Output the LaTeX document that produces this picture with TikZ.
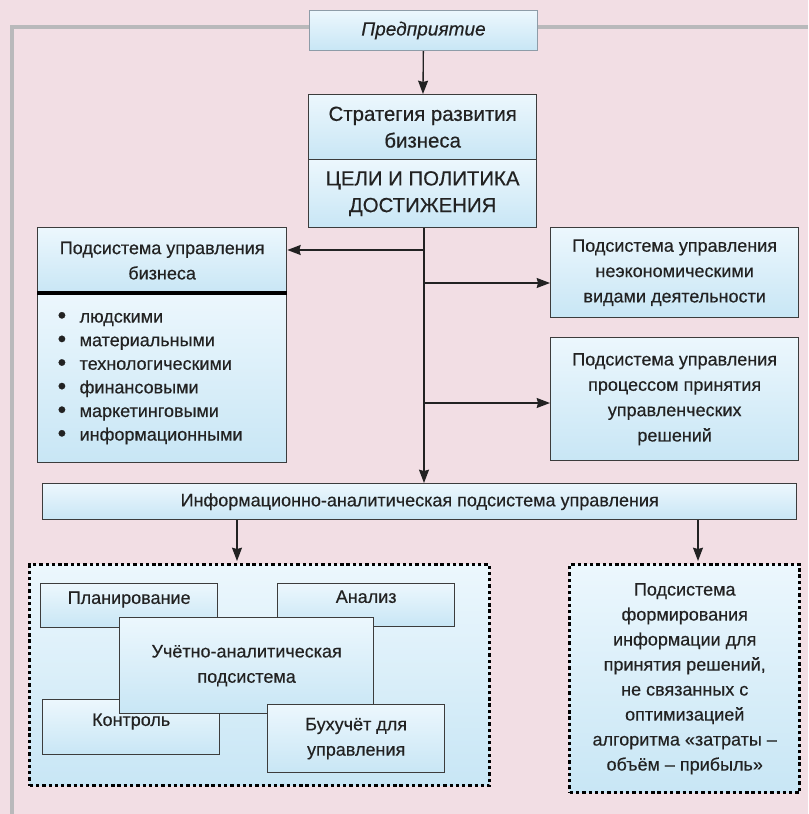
\documentclass[tikz,border=0pt]{standalone}
\usepackage{fontspec}
\setmainfont{Liberation Sans}[FakeBold=0.4]
\usetikzlibrary{arrows.meta,shadings}
\definecolor{bg}{HTML}{F2DEE4}
\definecolor{frm}{HTML}{B9B9BB}
\definecolor{btop}{HTML}{ECF7FD}
\definecolor{bbot}{HTML}{C8E6F5}
\definecolor{bord}{HTML}{3C3C3C}
\definecolor{entbord}{HTML}{8E9CA8}
\definecolor{txt}{HTML}{222222}
\newcommand{\bul}{\makebox[16.5pt][l]{\raisebox{-0.6pt}{\scalebox{1.35}{•}}}}
\begin{document}
\begin{tikzpicture}[x=0.75pt,y=-0.75pt,
  box/.style={draw=bord,line width=1pt,top color=btop,bottom color=bbot,
    text=txt,align=center,inner sep=0pt,anchor=north west,
    font=\fontsize{13.5}{19}\selectfont},
  bigtxt/.style={font=\fontsize{15.3}{20}\selectfont},
  dbox/.style={box,draw=black,line width=2.6pt,dash pattern=on 2.5pt off 2.2pt},
  arr/.style={draw=txt,line width=1pt,-{Stealth[length=10pt,width=7.5pt,inset=1pt]}},
  frame/.style={draw=frm,line width=3pt}]
\useasboundingbox[fill=bg] (0,0) rectangle (808,814);
% outer frame
\draw[frame] (12,814) -- (12,27) -- (309,27);
\draw[frame] (537,27) -- (808,27);
% top
\node[box,draw=entbord,line width=0.8pt,minimum width=171pt,minimum height=30pt,
  font=\fontsize{14.3}{19}\selectfont\itshape] (ent) at (309,10) {Предприятие};
\node[box,bigtxt,minimum width=171pt,minimum height=48.75pt] (strat1) at (308,94)
  {Стратегия развития\\бизнеса};
\node[box,bigtxt,minimum width=171pt,minimum height=51pt] (strat2) at (308,159)
  {ЦЕЛИ И ПОЛИТИКА\\ДОСТИЖЕНИЯ};
% left business box
\node[box,minimum width=186.75pt,minimum height=49.5pt] (bizH) at (37,227)
  {Подсистема управления\\бизнеса};
\node[box,minimum width=186.75pt,minimum height=126.75pt,
  text width=156.75pt,align=left,inner xsep=15pt,
  font=\fontsize{13.5}{17.7}\selectfont] (bizL) at (37,293)
  {\bul людскими\\
   \bul материальными\\
   \bul технологическими\\
   \bul финансовыми\\
   \bul маркетинговыми\\
   \bul информационными};
\draw[black,line width=2.4pt] (bizL.north west) -- (bizL.north east);
% right boxes
\node[box,minimum width=186pt,minimum height=67.5pt] (neco) at (550,227)
  {Подсистема управления\\неэкономическими\\видами деятельности};
\node[box,minimum width=186pt,minimum height=92.25pt] (dec) at (550,337)
  {Подсистема управления\\процессом принятия\\управленческих\\решений};
% info box
\node[box,minimum width=565.5pt,minimum height=27pt] (info) at (42,483)
  {Информационно-аналитическая подсистема управления};
% dashed boxes
\node[dbox,minimum width=345pt,minimum height=165.75pt] (leftD) at (28,563) {};
\node[dbox,minimum width=172.5pt,minimum height=171pt,font=\fontsize{13.5}{18.75}\selectfont] (rightD) at (568,563)
  {Подсистема\\формирования\\информации для\\принятия решений,\\не связанных с\\оптимизацией\\алгоритма «затраты –\\объём – прибыль»};
% inner boxes
\node[box,minimum width=132.75pt,minimum height=33pt,text height=9.6pt,text depth=12.3pt] (plan) at (40,583) {Планирование};
\node[box,minimum width=132.75pt,minimum height=32.25pt,text height=9.6pt,text depth=13.1pt] (anal) at (277,583) {Анализ};
\node[box,minimum width=132.75pt,minimum height=41.25pt,text height=9.6pt,text depth=11.5pt] (kontr) at (42,699) {Контроль};
\node[box,minimum width=190.5pt,minimum height=72pt] (uchet) at (119,617)
  {Учётно-аналитическая\\подсистема};
\node[box,minimum width=132.75pt,minimum height=51pt] (buh) at (267,704)
  {Бухучёт для\\управления};
% connectors
\draw[arr] (ent) -- (strat1);
\coordinate (vx) at (424,0);
\draw[arr] (vx |- strat2.south) -- (vx |- info.north);
\coordinate (j1) at (424,250);
\coordinate (j2) at (424,283);
\coordinate (j3) at (424,403);
\draw[arr] (j1) -- (j1 -| bizH.east);
\draw[arr] (j2) -- (j2 -| neco.west);
\draw[arr] (j3) -- (j3 -| dec.west);
\coordinate (ax) at (237,0);
\coordinate (bx) at (698,0);
\draw[arr] (ax |- info.south) -- ([yshift=1.5pt]ax |- leftD.north);
\draw[arr] (bx |- info.south) -- ([yshift=1.5pt]bx |- rightD.north);
\end{tikzpicture}
\end{document}
